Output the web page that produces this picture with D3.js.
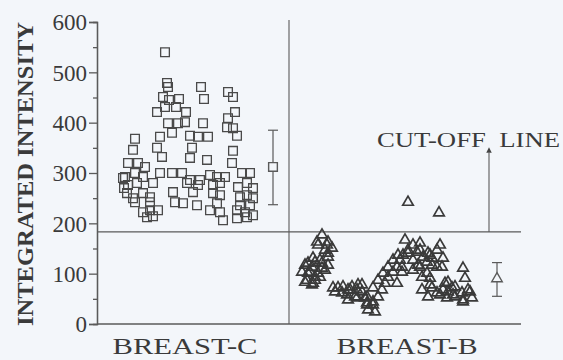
<!DOCTYPE html>
<html>
<head>
<meta charset="utf-8">
<script src="https://cdn.jsdelivr.net/npm/d3@7"></script>
<style>
  body { margin: 0; background: #f3f6fa; }
  svg { display: block; }
  text { font-family: "Liberation Serif", "DejaVu Serif", serif; fill: #3a3a3a; }
</style>
</head>
<body>
<svg id="chart"></svg>
<script>
// sample position (lane units) and integrated intensity
const breastC = [
  [34, 540], [35, 479], [35.5, 471], [52, 471], [53.5, 447], [65.5, 461], [68, 451],
  [33, 451], [36, 445], [41, 447], [30, 421], [34, 431], [39.5, 431], [44.5, 421],
  [69, 421], [65.5, 409], [35.5, 399], [40.5, 399], [44, 401], [53, 399], [65, 391],
  [68, 389], [19, 368], [31.5, 372], [37.5, 380], [46.5, 374], [50.5, 372], [55.5, 372],
  [70, 374], [18, 346], [30, 350], [47.5, 350], [32.5, 332], [46.5, 330], [68, 344],
  [15.5, 320], [20.5, 320], [24, 312], [55, 326], [67.5, 320], [14, 292], [19, 300],
  [23, 292], [31.5, 300], [37.5, 300], [42.5, 300], [46.5, 286], [51.5, 286], [56.5, 296],
  [60, 292], [64, 292], [72.5, 300], [76.5, 300], [15.5, 276], [20, 280], [28, 280],
  [45, 280], [50.5, 276], [58, 276], [61.5, 280], [70.5, 272], [75, 280], [78, 270],
  [15, 260], [18, 250], [23, 260], [26.5, 252], [38, 262], [48, 262], [58, 260],
  [61.5, 256], [71.5, 252], [75, 256], [78, 250], [19, 242], [26.5, 242], [39, 242],
  [43, 240], [50, 236], [60, 240], [71.5, 236], [76.5, 236], [23, 222], [26.5, 226],
  [30.5, 226], [56.5, 226], [61.5, 222], [70, 226], [74, 222], [78, 216], [25, 212],
  [28, 214], [63, 206], [70, 210], [75, 212], [13, 290], [13.5, 270]
];
const breastB = [
  [155.5, 242], [171, 221], [112.5, 177], [115.5, 163], [110, 163], [117.5, 151], [114, 147],
  [108, 131], [111.5, 127], [115.5, 133], [104, 117], [107.5, 113], [112.5, 111], [102.5, 103],
  [105.5, 101], [109, 93], [105, 87], [108, 81], [118, 72], [120.5, 72], [123, 74],
  [125.5, 68], [127.5, 74], [130, 68], [132.5, 78], [125, 58], [129, 54], [134, 52],
  [135, 42], [138, 38], [139, 24], [135.5, 28], [140.5, 54], [142.5, 68], [144, 81],
  [145.5, 93], [148, 103], [150, 113], [151.5, 127], [153, 137], [154, 167], [155.5, 147],
  [158, 157], [160, 143], [161.5, 161], [163, 133], [165, 123], [165.5, 141], [167.5, 131],
  [171.5, 157], [173, 131], [170, 113], [165, 101], [166.5, 78], [165.5, 54], [170, 62],
  [173, 68], [175.5, 83], [177.5, 72], [175, 52], [179, 54], [182.5, 62], [183, 111],
  [184, 91], [185.5, 68], [187.5, 52], [183, 48], [158, 107], [160.5, 117], [170, 147],
  [110.5, 157], [115, 157], [115.5, 141], [105.5, 121], [109, 123], [112.5, 121], [115.5, 117],
  [106.5, 103], [110.5, 101], [114, 107], [104, 83], [109, 87], [111.5, 93], [107.5, 78],
  [119, 64], [122.5, 62], [126.5, 68], [130.5, 78], [132.5, 64], [125.5, 48], [130, 52],
  [135, 54], [138, 72], [140.5, 87], [143, 101], [145.5, 113], [148, 127], [150.5, 137],
  [152.5, 113], [138, 44], [135, 38], [161.5, 147], [155.5, 141], [158, 127], [166.5, 137],
  [152.5, 103], [161.5, 113], [167.5, 117], [172.5, 113], [150, 81], [162.5, 93], [166.5, 91],
  [162.5, 68], [167.5, 72], [174, 81], [175.5, 64], [179, 74], [171.5, 58], [178, 58],
  [186.5, 64], [183, 44]
];
// mean and range markers: [lane, low, mean, high]
const summaryC = [88, 237, 312, 385];
const summaryB = [200, 55, 90, 122];
const cutOff = 183;
const yTicks = [0, 100, 200, 300, 400, 500, 600];
const groupLabels = [["BREAST-C", 44, 145], ["BREAST-B", 155, 141]];

const width = 563, height = 360;
const svg = d3.select("#chart").attr("width", width).attr("height", height);

const x = d3.scaleLinear().domain([0, 212]).range([97, 521]);
const y = d3.scaleLinear().domain([0, 600]).range([324, 22]);
const ink = "#5a5a5a";

// y axis with minor ticks
const yAxis = svg.append("g").attr("transform", `translate(${x(0)},0)`);
yAxis.call(d3.axisLeft(y).tickValues(d3.range(50, 600, 100)).tickSize(4).tickFormat(""));
yAxis.append("g").call(d3.axisLeft(y).tickValues(yTicks).tickSize(8).tickPadding(2));
yAxis.selectAll(".domain").attr("stroke", ink).attr("stroke-width", 1.3);
yAxis.selectAll("line").attr("stroke", ink).attr("stroke-width", 1.3);
yAxis.selectAll("text")
  .style("font-family", "Liberation Serif, serif")
  .style("font-size", "23px")
  .attr("fill", "#3a3a3a")
  .attr("dy", "0.34em");

svg.append("text")
  .attr("transform", `translate(33,${(y(0) + y(600)) / 2 + 1}) rotate(-90)`)
  .attr("text-anchor", "middle")
  .attr("textLength", 304)
  .attr("lengthAdjust", "spacingAndGlyphs")
  .style("font-size", "24px")
  .style("font-weight", "bold")
  .text("INTEGRATED INTENSITY");

// frame lines
svg.append("line")
  .attr("x1", x(0)).attr("x2", x(212)).attr("y1", y(0)).attr("y2", y(0))
  .attr("stroke", ink).attr("stroke-width", 1.4);
svg.append("line")
  .attr("x1", x(0)).attr("x2", x(212)).attr("y1", y(cutOff)).attr("y2", y(cutOff))
  .attr("stroke", ink).attr("stroke-width", 1.3);
svg.append("line")
  .attr("x1", x(96)).attr("x2", x(96)).attr("y1", y(0)).attr("y2", y(604))
  .attr("stroke", ink).attr("stroke-width", 1.1);

// cut-off arrow and label
svg.append("defs").append("marker")
  .attr("id", "head").attr("viewBox", "0 0 10 10").attr("refX", 5).attr("refY", 10)
  .attr("markerWidth", 5).attr("markerHeight", 6).attr("orient", "0")
  .append("path").attr("d", "M0,10 L5,0 L10,10 Z").attr("fill", "#444");
svg.append("line")
  .attr("x1", x(196)).attr("x2", x(196)).attr("y1", y(cutOff)).attr("y2", y(340))
  .attr("stroke", ink).attr("stroke-width", 1.1)
  .attr("marker-end", "url(#head)");
svg.append("text")
  .attr("x", 377).attr("y", 147)
  .attr("textLength", 183).attr("lengthAdjust", "spacingAndGlyphs")
  .style("font-size", "21px")
  .style("white-space", "pre")
  .text("CUT-OFF  LINE");

// points
const square = d3.symbol().type(d3.symbolSquare).size(76);
const triangle = d3.symbol().type(d3.symbolTriangle).size(48);

svg.append("g").selectAll("path").data(breastC).join("path")
  .attr("d", square)
  .attr("transform", d => `translate(${x(d[0])},${y(d[1])})`)
  .attr("fill", "none").attr("stroke", "#4a4a4a").attr("stroke-width", 1.3);

svg.append("g").selectAll("path").data(breastB).join("path")
  .attr("d", triangle)
  .attr("transform", d => `translate(${x(d[0])},${y(d[1])})`)
  .attr("fill", "none").attr("stroke", "#3a3a3a").attr("stroke-width", 1.7);

// mean +/- range markers
function summary(s, sym) {
  const g = svg.append("g").attr("stroke", ink).attr("stroke-width", 1.2).attr("fill", "none");
  const cx = x(s[0]);
  g.append("line").attr("x1", cx).attr("x2", cx).attr("y1", y(s[1])).attr("y2", y(s[3]));
  [s[1], s[3]].forEach(v => {
    g.append("line").attr("x1", cx - 5).attr("x2", cx + 5).attr("y1", y(v)).attr("y2", y(v));
  });
  g.append("path").attr("d", sym).attr("transform", `translate(${cx},${y(s[2])})`)
    .attr("fill", "#f3f6fa").attr("stroke-width", 1.4);
}
summary(summaryC, square);
summary(summaryB, triangle);

// group labels
svg.selectAll(".group").data(groupLabels).join("text")
  .attr("class", "group")
  .attr("x", d => x(d[1])).attr("y", 354)
  .attr("text-anchor", "middle")
  .attr("textLength", d => d[2]).attr("lengthAdjust", "spacingAndGlyphs")
  .style("font-size", "24px")
  .text(d => d[0]);
</script>
</body>
</html>
